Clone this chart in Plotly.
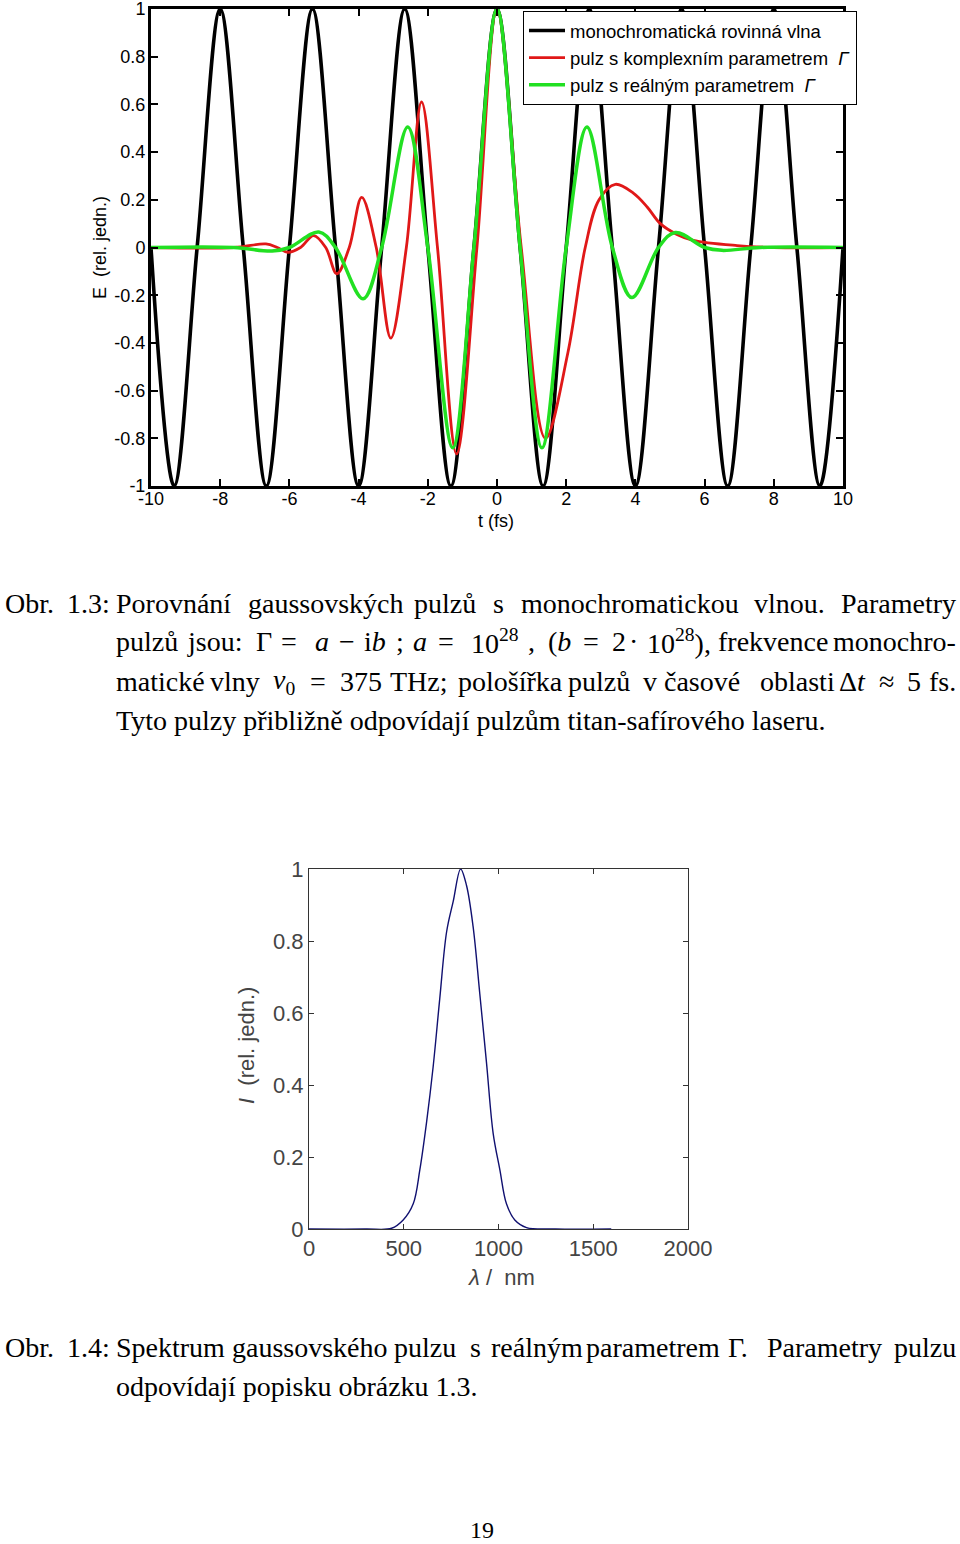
import plotly.graph_objects as go

# ---------------- data ----------------
# monochromatic plane wave: extrema and zero crossings
t_mono = [-10, -9.333, -8.667, -8, -7.333, -6.667, -6, -5.333, -4.667, -4, -3.333,
          -2.667, -2, -1.333, -0.667, 0, 0.667, 1.333, 2, 2.667, 3.333, 4, 4.667,
          5.333, 6, 6.667, 7.333, 8, 8.667, 9.333, 10]
E_mono = [0, -1, 0, 1, 0, -1, 0, 1, 0, -1, 0,
          1, 0, -1, 0, 1, 0, -1, 0, 1, 0, -1, 0,
          1, 0, -1, 0, 1, 0, -1, 0]

# pulse with complex parameter Gamma (chirped)
t_cplx = [-10, -7.6, -6.68, -6.35, -6.05, -5.68, -5.3, -4.95, -4.63, -4.27, -3.91,
          -3.49, -3.07, -2.62, -2.18, -1.72, -1.17, -0.58, 0.0, 0.7, 1.4, 2.05,
          2.55, 2.95, 3.42, 3.94, 4.34, 4.72, 5.2, 5.67, 6.94, 8.0, 10]
E_cplx = [0, 0, 0.015, 0, -0.02, 0, 0.05, 0, -0.11, 0, 0.21,
          0, -0.38, 0, 0.61, 0, -0.865, 0, 1.0, 0, -0.80, -0.44,
          0, 0.2, 0.265, 0.228, 0.17, 0.10, 0.055, 0.03, 0.008, 0, 0]

# pulse with real parameter Gamma
t_real = [-10, -7.6, -6.5, -6.0, -5.15, -4.667, -3.87, -3.333, -2.58, -2.0, -1.28,
          -0.667, 0, 0.667, 1.3, 2.0, 2.6, 3.333, 3.9, 4.667, 5.15, 6.0, 6.5,
          7.6, 10]
E_real = [0, 0, -0.015, 0, 0.065, 0, -0.215, 0, 0.505, 0, -0.84,
          0, 1.0, 0, -0.84, 0, 0.505, 0, -0.21, 0, 0.063, 0, -0.012,
          0, 0]

# spectrum of the pulse with real parameter
lam = [0, 300, 436, 497, 550, 585, 620, 655, 690, 726, 761, 800, 831, 866, 901,
       937, 972, 1007, 1042, 1086, 1148, 1300, 1595]
I_spec = [0, 0, 0.002, 0.025, 0.07, 0.165, 0.295, 0.45, 0.64, 0.825, 0.91, 1.0,
          0.955, 0.84, 0.655, 0.46, 0.265, 0.165, 0.07, 0.025, 0.004, 0, 0]

names = ["monochromatická rovinná vlna",
         "pulz s komplexním parametrem  <i>Γ</i>",
         "pulz s reálným parametrem  <i>Γ</i>"]

x1_ticks = [-10, -8, -6, -4, -2, 0, 2, 4, 6, 8, 10]
x1_text = ["-10", "-8", "-6", "-4", "-2", "0", "2", "4", "6", "8", "10"]
y1_ticks = [-1, -0.8, -0.6, -0.4, -0.2, 0, 0.2, 0.4, 0.6, 0.8, 1]
y1_text = ["-1", "-0.8", "-0.6", "-0.4", "-0.2", "0", "0.2", "0.4", "0.6", "0.8", "1"]
x2_ticks = [0, 500, 1000, 1500, 2000]
x2_text = ["0", "500", "1000", "1500", "2000"]
y2_ticks = [0, 0.2, 0.4, 0.6, 0.8, 1]
y2_text = ["0", "0.2", "0.4", "0.6", "0.8", "1"]

W, H = 960, 1544


def px(x):
    return x / W


def py(y):
    return 1 - y / H


fig = go.Figure()
fig.add_trace(go.Scatter(x=t_mono, y=E_mono, mode="lines", name=names[0],
                         line=dict(color="black", width=3.6, shape="spline"),
                         xaxis="x", yaxis="y"))
fig.add_trace(go.Scatter(x=t_cplx, y=E_cplx, mode="lines", name=names[1],
                         line=dict(color="#e01818", width=2.8, shape="spline"),
                         xaxis="x", yaxis="y"))
fig.add_trace(go.Scatter(x=t_real, y=E_real, mode="lines", name=names[2],
                         line=dict(color="#22e022", width=3.5, shape="spline"),
                         xaxis="x", yaxis="y"))
fig.add_trace(go.Scatter(x=lam, y=I_spec, mode="lines", showlegend=False,
                         line=dict(color="#101070", width=1.4, shape="spline"),
                         xaxis="x2", yaxis="y2"))

sans = "Liberation Sans, Arial, sans-serif"
serif = "Liberation Serif, Times New Roman, serif"
top_font = dict(family=sans, size=18, color="black")
bot_font = dict(family=sans, size=22, color="#444444")

common_top = dict(ticks="inside", ticklen=7, tickwidth=2, tickcolor="black",
                  showline=True, linewidth=3, linecolor="black", mirror="ticks",
                  showgrid=False, zeroline=False, tickfont=top_font,
                  automargin=False, ticklabeloverflow="allow")
common_bot = dict(ticks="inside", ticklen=5, tickwidth=1, tickcolor="#333333",
                  showline=True, linewidth=1, linecolor="#333333", mirror="ticks",
                  showgrid=False, zeroline=False, tickfont=bot_font,
                  automargin=False, ticklabeloverflow="allow")

fig.update_layout(
    width=W, height=H,
    margin=dict(l=0, r=0, t=0, b=0, autoexpand=False),
    paper_bgcolor="white", plot_bgcolor="white",
    xaxis=dict(domain=[px(151), px(843)], range=[-10, 10], anchor="y",
               tickvals=x1_ticks, ticktext=x1_text, ticklabelstandoff=-6,
               **common_top),
    yaxis=dict(domain=[py(486), py(9)], range=[-1, 1], anchor="x",
               tickvals=y1_ticks, ticktext=y1_text, ticklabelstandoff=-1,
               **common_top),
    xaxis2=dict(domain=[px(309), px(688)], range=[0, 2000], anchor="y2",
                tickvals=x2_ticks, ticktext=x2_text, **common_bot),
    yaxis2=dict(domain=[py(1229), py(869)], range=[0, 1], anchor="x2",
                tickvals=y2_ticks, ticktext=y2_text, **common_bot),
    legend=dict(x=px(523), y=py(11), xanchor="left", yanchor="top",
                bgcolor="white", bordercolor="black", borderwidth=1,
                itemwidth=36,
                font=dict(family=sans, size=18.5, color="black")),
    showlegend=True,
)

annotations = []


def add_text(x, y, text, font, anchor="left", angle=0):
    annotations.append(dict(x=px(x), y=py(y), xref="paper", yref="paper",
                            text=text, showarrow=False, xanchor=anchor,
                            yanchor="middle", font=font, textangle=angle))


# axis titles
add_text(496, 521, "t (fs)", top_font, anchor="center")
add_text(100, 248, "E  (rel. jedn.)", top_font, anchor="center", angle=-90)
add_text(501, 1277, "<i>λ</i> /  nm", bot_font, anchor="center")
add_text(246, 1045, "<i>I</i>  (rel. jedn.)", bot_font, anchor="center", angle=-90)

cap_font = dict(family=serif, size=28, color="black")
sup = "<sup>28</sup>"
RIGHT = 958
caption_lines = [
    (603, [(3, "Obr."), (65, "1.3:"), (114, "Porovnání"), (246, "gaussovských"),
           (412, "pulzů"), (491, "s"), (519, "monochromatickou"), (752, "vlnou."),
           (RIGHT, "Parametry")]),
    (642, [(114, "pulzů"), (185, "jsou:"), (254, "Γ"), (279, "="), (313, "<i>a</i>"),
           (337, "−"), (362, "i<i>b</i>"), (394, ";"), (411, "<i>a</i>"), (436, "="),
           (469, "10" + sup), (526, ","), (546, "(<i>b</i>"), (581, "="), (610, "2"),
           (627, "·"), (645, "10" + sup + "),"), (716, "frekvence"),
           (RIGHT, "monochro-")]),
    (681, [(114, "matické"), (208, "vlny"), (271, "<i>ν</i><sub>0</sub>"), (308, "="),
           (338, "375"), (388, "THz;"), (456, "pološířka"), (566, "pulzů"),
           (641, "v"), (662, "časové"), (758, "oblasti"), (837, "Δ<i>t</i>"),
           (877, "≈"), (905, "5"), (RIGHT, "fs.")]),
    (720, [(114, "Tyto pulzy přibližně odpovídají pulzům titan-safírového laseru.")]),
    (1347, [(3, "Obr."), (65, "1.4:"), (114, "Spektrum"), (230, "gaussovského"),
            (392, "pulzu"), (468, "s"), (489, "reálným"), (584, "parametrem"),
            (726, "Γ."), (765, "Parametry"), (RIGHT, "pulzu")]),
    (1386, [(114, "odpovídají popisku obrázku 1.3.")]),
]
for y, words in caption_lines:
    for x, w in words:
        add_text(x, y, w, cap_font, anchor="right" if x == RIGHT else "left")

add_text(482, 1530, "19", dict(family=serif, size=24, color="black"), anchor="center")

fig.update_layout(annotations=annotations)
fig.write_html("out.html")
